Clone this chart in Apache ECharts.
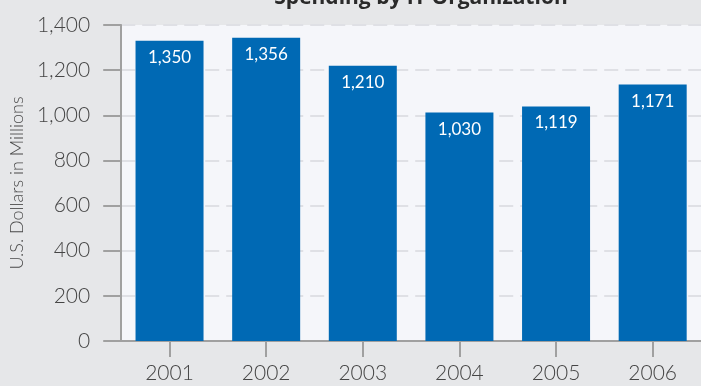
<!DOCTYPE html>
<html>
<head>
<meta charset="utf-8">
<script src="https://cdn.jsdelivr.net/npm/echarts@6/dist/echarts.min.js"></script>
<style>
html,body{margin:0;padding:0;background:#e6e7e9;}
#c{width:701px;height:386px;}
</style>
</head>
<body>
<div id="c"></div>
<script>
var titleText = 'Spending by IT Organization';
var yAxisName = 'U.S. Dollars in Millions';
var categories = ['2001', '2002', '2003', '2004', '2005', '2006'];
// bar heights as drawn in the picture
var barValues = [1330, 1344, 1220, 1012, 1039, 1136];
// value labels as printed on the bars
var valueLabels = ['1,350', '1,356', '1,210', '1,030', '1,119', '1,171'];
var yMin = 0, yMax = 1400, yInterval = 200;

var chart = echarts.init(document.getElementById('c'), null, {renderer: 'canvas'});
var font = 'Lato';
chart.setOption({
  backgroundColor: '#e6e7e9',
  animation: false,
  title: {
    text: titleText,
    left: 416, textAlign: 'center',
    top: -17,
    textStyle: {fontFamily: 'Open Sans', fontWeight: 'bold', fontSize: 21, color: '#2a2a2a'}
  },
  grid: {
    left: 118, right: 0, top: 25, bottom: 45,
    show: true, backgroundColor: '#f5f6fa', borderWidth: 0
  },
  xAxis: {
    type: 'category',
    data: categories,
    axisLine: {show: true, lineStyle: {color: '#a0a0a0', width: 2}},
    axisTick: {show: true, alignWithLabel: true, length: 16, lineStyle: {color: '#a0a0a0', width: 2}},
    axisLabel: {fontFamily: font, fontWeight: 300, fontSize: 21, color: '#454545', margin: 22}
  },
  yAxis: {
    type: 'value',
    min: yMin, max: yMax, interval: yInterval,
    name: yAxisName,
    nameLocation: 'middle',
    nameGap: 94,
    nameTextStyle: {fontFamily: font, fontWeight: 300, fontSize: 18, color: '#4a4a4a'},
    axisLine: {show: true, lineStyle: {color: '#a0a0a0', width: 2}},
    axisTick: {show: true, length: 18, lineStyle: {color: '#a0a0a0', width: 2}},
    axisLabel: {
      fontFamily: font, fontWeight: 300, fontSize: 21, color: '#454545', margin: 31,
      formatter: function (v) { return v.toLocaleString('en-US'); }
    },
    splitLine: {show: true, lineStyle: {color: '#dfe0e5', type: [14, 7], width: 2}}
  },
  series: [{
    type: 'bar',
    data: barValues,
    barWidth: 68,
    itemStyle: {color: '#0069b4'},
    label: {
      show: true, position: 'insideTop', distance: 8,
      fontFamily: font, fontSize: 17, color: '#ffffff',
      formatter: function (p) { return valueLabels[p.dataIndex]; }
    }
  }]
});
</script>
</body>
</html>
